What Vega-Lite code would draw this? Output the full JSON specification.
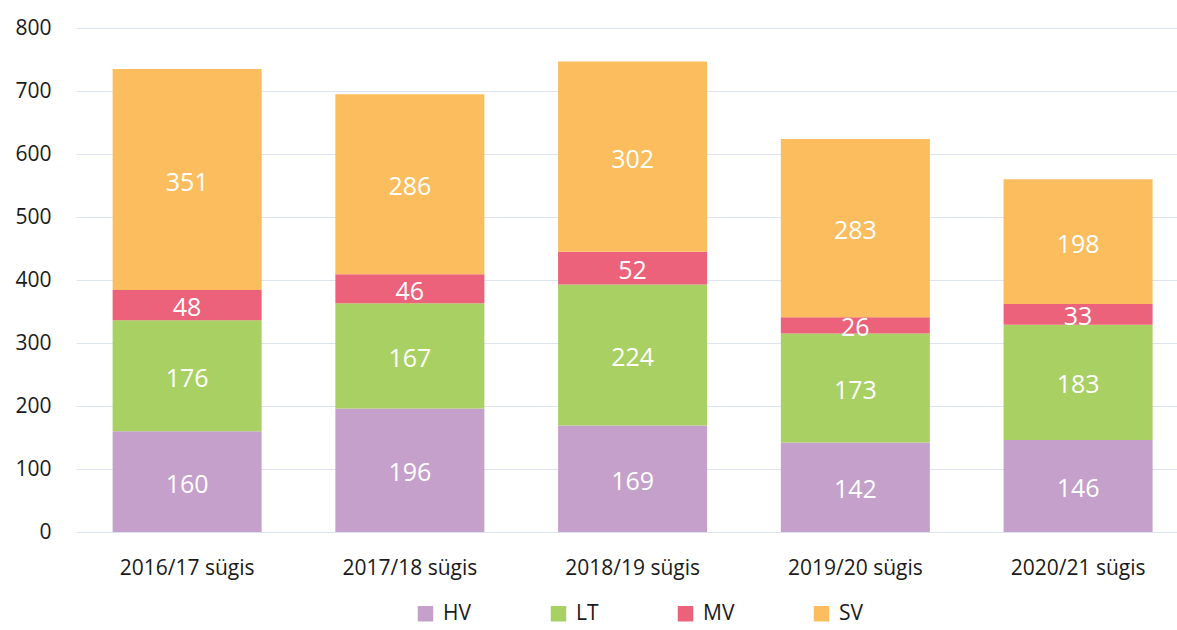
{
  "$schema": "https://vega.github.io/schema/vega-lite/v6.json",
  "width": 1101,
  "height": 504,
  "autosize": {"type": "none"},
  "padding": {"left": 76, "top": 28, "right": 0, "bottom": 98},
  "background": "white",
  "config": {
    "view": {"stroke": null},
    "font": "Open Sans"
  },
  "data": {
    "values": [
      {"period": "2016/17 sügis", "cat": "HV", "value": 160},
      {"period": "2016/17 sügis", "cat": "LT", "value": 176},
      {"period": "2016/17 sügis", "cat": "MV", "value": 48},
      {"period": "2016/17 sügis", "cat": "SV", "value": 351},
      {"period": "2017/18 sügis", "cat": "HV", "value": 196},
      {"period": "2017/18 sügis", "cat": "LT", "value": 167},
      {"period": "2017/18 sügis", "cat": "MV", "value": 46},
      {"period": "2017/18 sügis", "cat": "SV", "value": 286},
      {"period": "2018/19 sügis", "cat": "HV", "value": 169},
      {"period": "2018/19 sügis", "cat": "LT", "value": 224},
      {"period": "2018/19 sügis", "cat": "MV", "value": 52},
      {"period": "2018/19 sügis", "cat": "SV", "value": 302},
      {"period": "2019/20 sügis", "cat": "HV", "value": 142},
      {"period": "2019/20 sügis", "cat": "LT", "value": 173},
      {"period": "2019/20 sügis", "cat": "MV", "value": 26},
      {"period": "2019/20 sügis", "cat": "SV", "value": 283},
      {"period": "2020/21 sügis", "cat": "HV", "value": 146},
      {"period": "2020/21 sügis", "cat": "LT", "value": 183},
      {"period": "2020/21 sügis", "cat": "MV", "value": 33},
      {"period": "2020/21 sügis", "cat": "SV", "value": 198}
    ]
  },
  "transform": [
    {"stack": "value", "groupby": ["period"], "sort": [{"field": "cat", "order": "ascending"}], "as": ["v0", "v1"]},
    {"calculate": "(datum.v0 + datum.v1) / 2", "as": "mid"}
  ],
  "encoding": {
    "x": {
      "field": "period",
      "type": "nominal",
      "sort": null,
      "scale": {"paddingInner": 0.331, "paddingOuter": 0.137, "align": 0.6},
      "axis": {
        "title": null,
        "labelAngle": 0,
        "labelFontSize": 21,
        "labelColor": "#1a1a1a",
        "labelPadding": 25,
        "ticks": false,
        "domain": false,
        "grid": false
      }
    }
  },
  "layer": [
    {
      "mark": {"type": "bar"},
      "encoding": {
        "y": {
          "field": "v1",
          "type": "quantitative",
          "scale": {"domain": [0, 800], "nice": false},
          "axis": {
            "title": null,
            "values": [0, 100, 200, 300, 400, 500, 600, 700, 800],
            "labelOverlap": false,
            "labelFontSize": 21,
            "labelColor": "#1a1a1a",
            "labelPadding": 25,
            "ticks": false,
            "domain": false,
            "gridColor": "#dde4ef",
            "gridWidth": 1
          }
        },
        "y2": {"field": "v0"},
        "color": {
          "field": "cat",
          "type": "nominal",
          "scale": {"domain": ["HV", "LT", "MV", "SV"], "range": ["#c4a0cb", "#a9d063", "#ec627a", "#fbbd5e"]},
          "legend": {
            "title": null,
            "orient": "none",
            "legendX": 339,
            "legendY": 575,
            "direction": "horizontal",
            "symbolType": "square",
            "symbolSize": 240,
            "symbolStrokeWidth": 0,
            "symbolOpacity": 1,
            "labelFontSize": 21,
            "labelColor": "#1a1a1a",
            "columnPadding": 76,
            "labelOffset": 7
          }
        }
      }
    },
    {
      "mark": {"type": "text", "color": "white", "fontSize": 25, "baseline": "middle", "dy": 3},
      "encoding": {
        "y": {
          "field": "mid",
          "type": "quantitative",
          "scale": {"domain": [0, 800], "nice": false},
          "axis": {
            "title": null,
            "values": [0, 100, 200, 300, 400, 500, 600, 700, 800],
            "labelOverlap": false,
            "labelFontSize": 21,
            "labelColor": "#1a1a1a",
            "labelPadding": 25,
            "ticks": false,
            "domain": false,
            "gridColor": "#dde4ef",
            "gridWidth": 1
          }
        },
        "text": {"field": "value", "type": "quantitative"}
      }
    }
  ]
}
